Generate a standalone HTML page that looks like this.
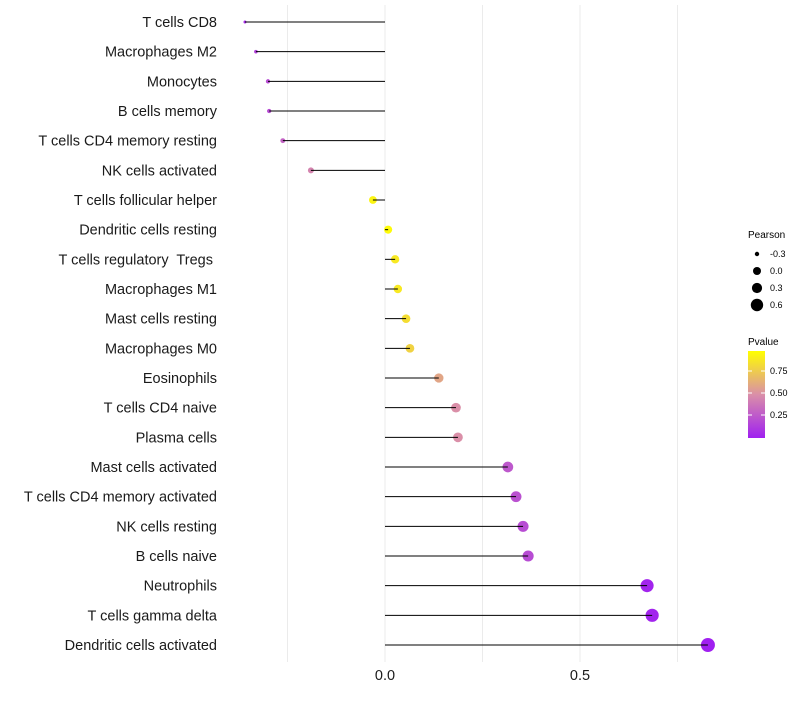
<!DOCTYPE html>
<html><head><meta charset="utf-8"><style>
body{margin:0;background:#fff;font-family:"Liberation Sans",sans-serif}
#ylabels text{white-space:pre}
</style></head><body>
<svg id="chart" width="800" height="700" xmlns="http://www.w3.org/2000/svg">
<defs><linearGradient id="pg" x1="0" y1="1" x2="0" y2="0">
<stop offset="0" stop-color="#A020F0"/><stop offset="0.5" stop-color="#DA8FA8"/><stop offset="1" stop-color="#FFFF00"/>
</linearGradient></defs>
<g id="grid"></g><g id="points"></g><g id="marks"></g><g id="ylabels"></g><g id="xlabels"></g>
<g font-size="9">
<text x="748" y="238" font-size="10">Pearson</text>
<circle cx="757" cy="254" r="2.2" fill="#000"/><text x="770" y="257">-0.3</text>
<circle cx="757" cy="271" r="4" fill="#000"/><text x="770" y="274">0.0</text>
<circle cx="757" cy="288" r="5.1" fill="#000"/><text x="770" y="291">0.3</text>
<circle cx="757" cy="305" r="6.2" fill="#000"/><text x="770" y="308">0.6</text>
</g>
<g font-size="9">
<text x="748" y="345" font-size="10">Pvalue</text>
<rect x="748" y="351" width="17" height="87" fill="url(#pg)"/>
<line x1="748" x2="752" y1="371" y2="371" stroke="#fff"/><line x1="761" x2="765" y1="371" y2="371" stroke="#fff"/>
<line x1="748" x2="752" y1="393" y2="393" stroke="#fff"/><line x1="761" x2="765" y1="393" y2="393" stroke="#fff"/>
<line x1="748" x2="752" y1="415" y2="415" stroke="#fff"/><line x1="761" x2="765" y1="415" y2="415" stroke="#fff"/>
<text x="770" y="374">0.75</text><text x="770" y="396">0.50</text><text x="770" y="418">0.25</text>
</g>
</svg>
<script>
const categories=["T cells CD8","Macrophages M2","Monocytes","B cells memory","T cells CD4 memory resting","NK cells activated","T cells follicular helper","Dendritic cells resting","T cells regulatory  Tregs ","Macrophages M1","Mast cells resting","Macrophages M0","Eosinophils","T cells CD4 naive","Plasma cells","Mast cells activated","T cells CD4 memory activated","NK cells resting","B cells naive","Neutrophils","T cells gamma delta","Dendritic cells activated"];
const pearson=[-0.359,-0.331,-0.300,-0.297,-0.262,-0.190,-0.031,0.008,0.026,0.033,0.054,0.064,0.138,0.182,0.187,0.315,0.336,0.354,0.367,0.672,0.685,0.828];
const pvalue=[0.05,0.15,0.2,0.2,0.3,0.45,0.95,0.98,0.9,0.9,0.85,0.8,0.6,0.5,0.5,0.25,0.22,0.2,0.2,0.02,0.02,0.001];
const xTicks=[0,0.5];
const xTickLabels=["0.0","0.5"];
const xGrid=[-0.25,0,0.25,0.5,0.75];
const NS="http://www.w3.org/2000/svg";
const xs=v=>385+v*390;
const ys=i=>22+i*(623/21);
const rs=v=>Math.sqrt(Math.max(1,16.4+39.3*v));
function hex(h){return [1,3,5].map(k=>parseInt(h.substr(k,2),16));}
const c0=hex("#A020F0"),c1=hex("#DA8FA8"),c2=hex("#FFFF00");
function col(p){let a,b,t;if(p<0.5){a=c0;b=c1;t=p/0.5}else{a=c1;b=c2;t=(p-0.5)/0.5}
return "rgb("+a.map((x,k)=>Math.round(x+(b[k]-x)*t)).join(",")+")";}
function mk(tag,attrs,parent){const e=document.createElementNS(NS,tag);for(const k in attrs)e.setAttribute(k,attrs[k]);parent.appendChild(e);return e;}
const grid=document.getElementById("grid"),marks=document.getElementById("marks"),pts=document.getElementById("points"),yl=document.getElementById("ylabels"),xl=document.getElementById("xlabels");
xGrid.forEach(g=>{const l=mk("line",{x1:xs(g),x2:xs(g),y1:5,y2:662,stroke:"#ebebeb","stroke-width":1},grid);

});
categories.forEach((c,i)=>{
const y=ys(i);
const t=mk("text",{x:217,y:y+5,"text-anchor":"end","font-size":"14.5",fill:"#1a1a1a"},yl);t.textContent=c;


const d=mk("circle",{cx:xs(pearson[i]),cy:y,r:rs(pearson[i]),fill:col(pvalue[i])},pts);


const l=mk("line",{x1:xs(0),x2:xs(pearson[i]),y1:y,y2:y,stroke:"#000","stroke-width":1},marks);


});
xTicks.forEach((v,i)=>{const t=mk("text",{x:xs(v),y:680,"text-anchor":"middle","font-size":"14.5",fill:"#1a1a1a"},xl);t.textContent=xTickLabels[i];

});
</script>
</body></html>
